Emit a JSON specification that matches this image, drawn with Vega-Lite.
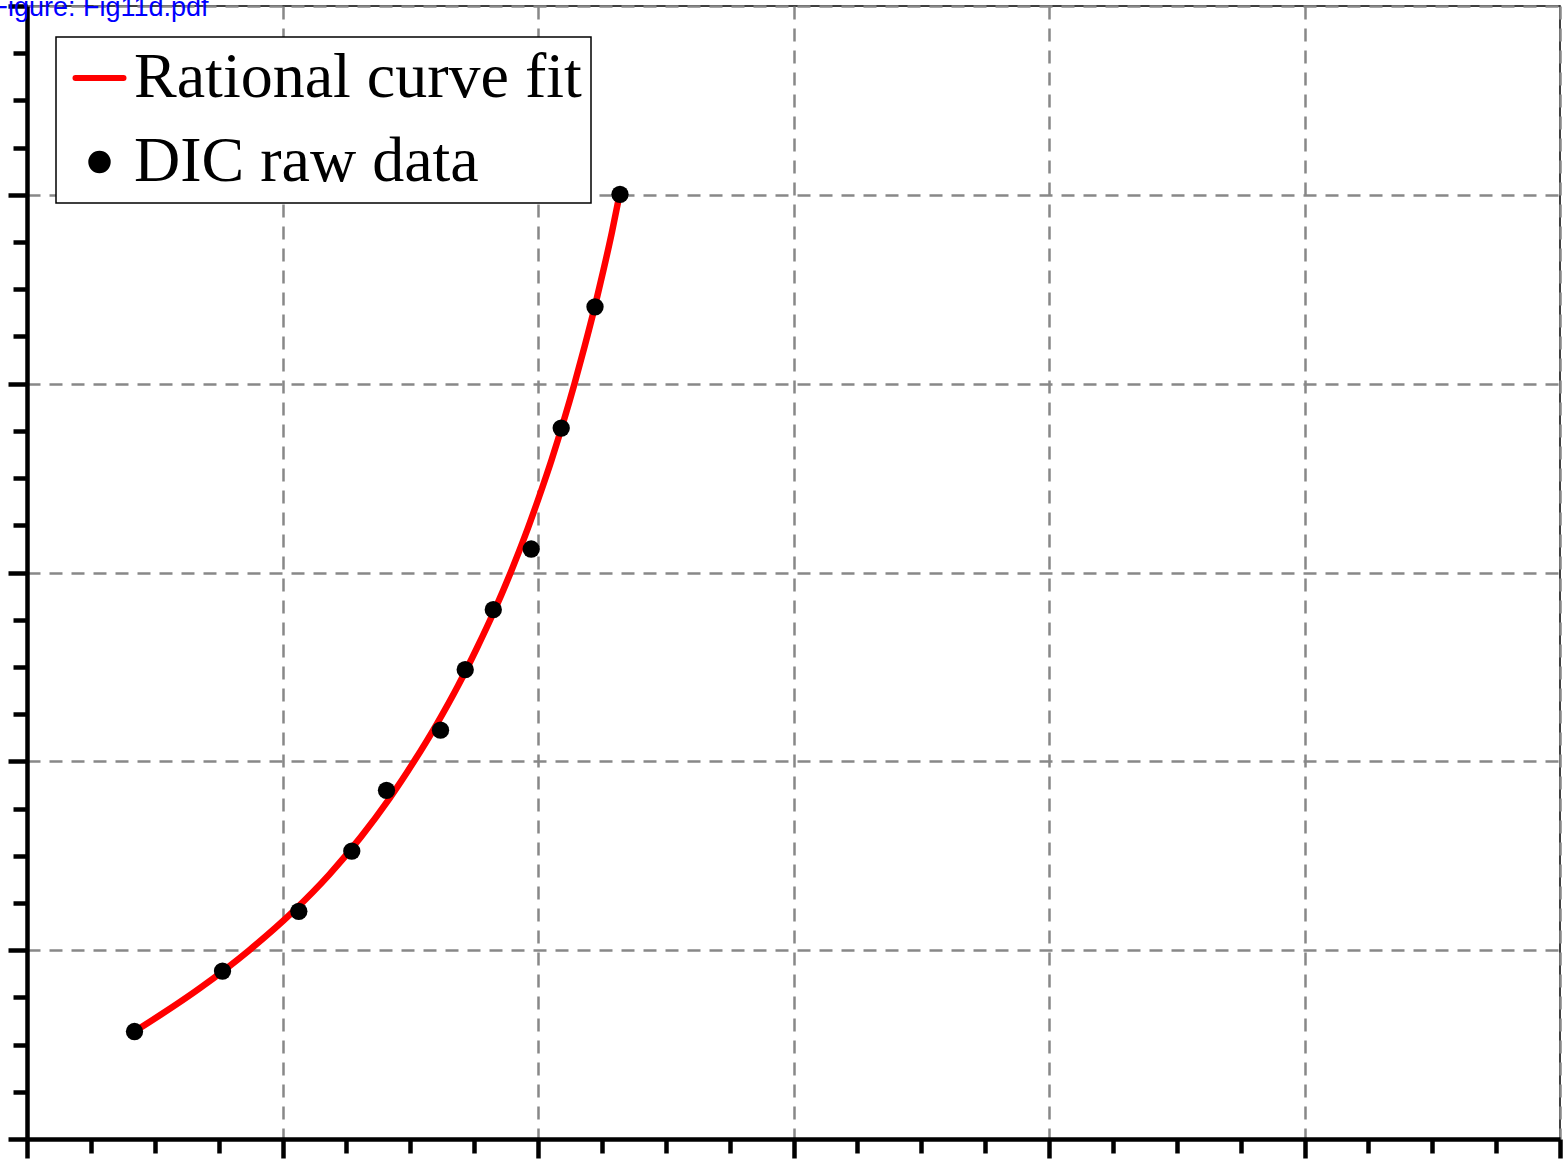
{
  "$schema": "https://vega.github.io/schema/vega-lite/v6.json",
  "width": 1533,
  "height": 1133,
  "autosize": {"type": "none"},
  "padding": {"left": 27, "top": 6, "right": 6, "bottom": 29},
  "background": "white",
  "config": {
    "view": {"stroke": "black", "strokeWidth": 1.5},
    "axis": {
      "labels": false,
      "title": null,
      "domainColor": "black",
      "domainWidth": 4.5,
      "tickColor": "black",
      "tickWidth": 4.5,
      "tickSize": {"condition": {"test": "datum.value % 1 === 0", "value": 19}, "value": 14},
      "grid": true,
      "gridColor": "#888888",
      "gridWidth": 2.5,
      "gridDash": [13, 9],
      "gridOpacity": {"condition": {"test": "datum.value % 1 === 0", "value": 1}, "value": 0}
    }
  },
  "data": {
    "values": [
      {"series": "Rational curve fit", "x": 0.4207, "y": 0.5691},
      {"series": "Rational curve fit", "x": 0.678, "y": 0.8},
      {"series": "Rational curve fit", "x": 0.870, "y": 1.0},
      {"series": "Rational curve fit", "x": 1.038, "y": 1.2},
      {"series": "Rational curve fit", "x": 1.183, "y": 1.4},
      {"series": "Rational curve fit", "x": 1.307, "y": 1.6},
      {"series": "Rational curve fit", "x": 1.417, "y": 1.8},
      {"series": "Rational curve fit", "x": 1.515, "y": 2.0},
      {"series": "Rational curve fit", "x": 1.605, "y": 2.2},
      {"series": "Rational curve fit", "x": 1.687, "y": 2.4},
      {"series": "Rational curve fit", "x": 1.761, "y": 2.6},
      {"series": "Rational curve fit", "x": 1.830, "y": 2.8},
      {"series": "Rational curve fit", "x": 1.893, "y": 3.0},
      {"series": "Rational curve fit", "x": 1.951, "y": 3.2},
      {"series": "Rational curve fit", "x": 2.004, "y": 3.4},
      {"series": "Rational curve fit", "x": 2.054, "y": 3.6},
      {"series": "Rational curve fit", "x": 2.100, "y": 3.8},
      {"series": "Rational curve fit", "x": 2.143, "y": 4.0},
      {"series": "Rational curve fit", "x": 2.183, "y": 4.2},
      {"series": "Rational curve fit", "x": 2.221, "y": 4.4},
      {"series": "Rational curve fit", "x": 2.256, "y": 4.6},
      {"series": "Rational curve fit", "x": 2.289, "y": 4.8},
      {"series": "Rational curve fit", "x": 2.319, "y": 5.0},
      {"series": "DIC raw data", "x": 0.4207, "y": 0.5691},
      {"series": "DIC raw data", "x": 0.7652, "y": 0.8894},
      {"series": "DIC raw data", "x": 1.0638, "y": 1.2059},
      {"series": "DIC raw data", "x": 1.2712, "y": 1.5246},
      {"series": "DIC raw data", "x": 1.4070, "y": 1.8465},
      {"series": "DIC raw data", "x": 1.6184, "y": 2.1652},
      {"series": "DIC raw data", "x": 1.7151, "y": 2.4854},
      {"series": "DIC raw data", "x": 1.8250, "y": 2.8031},
      {"series": "DIC raw data", "x": 1.9734, "y": 3.1244},
      {"series": "DIC raw data", "x": 2.0908, "y": 3.7650},
      {"series": "DIC raw data", "x": 2.2231, "y": 4.4071},
      {"series": "DIC raw data", "x": 2.3209, "y": 5.0026}
    ]
  },
  "layer": [
    {
      "transform": [{"filter": "datum.series === 'Rational curve fit'"}],
      "mark": {"type": "line", "strokeWidth": 6.5, "interpolate": "monotone", "strokeCap": "round"},
      "encoding": {
        "x": {
          "field": "x", "type": "quantitative",
          "scale": {"domain": [0, 6], "nice": false, "zero": false},
          "axis": {"values": [0,0.25,0.5,0.75,1,1.25,1.5,1.75,2,2.25,2.5,2.75,3,3.25,3.5,3.75,4,4.25,4.5,4.75,5,5.25,5.5,5.75,6]}
        },
        "y": {
          "field": "y", "type": "quantitative",
          "scale": {"domain": [0, 6], "nice": false, "zero": false},
          "axis": {
            "values": [0,0.25,0.5,0.75,1,1.25,1.5,1.75,2,2.25,2.5,2.75,3,3.25,3.5,3.75,4,4.25,4.5,4.75,5,5.25,5.5,5.75,6],
            "title": "Figure: Fig11d.pdf",
            "titleAngle": 0,
            "titleX": -36,
            "titleY": 9,
            "titleAlign": "left",
            "titleBaseline": "alphabetic",
            "titleFont": "Liberation Sans",
            "titleFontSize": 27,
            "titleFontWeight": "normal",
            "titleColor": "#0000ff"
          }
        },
        "color": {
          "field": "series", "type": "nominal",
          "scale": {"domain": ["Rational curve fit", "DIC raw data"], "range": ["#ff0000", "#000000"]},
          "legend": {
            "orient": "none",
            "legendX": 29,
            "legendY": 31,
            "title": null,
            "direction": "vertical",
            "strokeColor": "black",
            "fillColor": "white",
            "padding": 9,
            "symbolOffset": 2.5,
            "symbolSize": 2304,
            "symbolType": "stroke",
            "symbolStrokeWidth": 6,
            "labelFont": "Liberation Serif",
            "labelFontSize": 64,
            "labelColor": "black",
            "labelOffset": 2.5,
            "labelLimit": 0,
            "rowPadding": 20,
            "encode": {
              "legend": {"update": {"strokeWidth": {"value": 1.5}}},
              "symbols": {
                "update": {
                  "shape": {"signal": "datum.value === 'DIC raw data' ? 'circle' : 'stroke'"},
                  "size": {"signal": "datum.value === 'DIC raw data' ? 270 : 2304"},
                  "fill": {"signal": "datum.value === 'DIC raw data' ? '#000000' : 'transparent'"},
                  "stroke": {"signal": "datum.value === 'DIC raw data' ? 'transparent' : '#ff0000'"},
                  "strokeWidth": {"value": 6},
                  "strokeCap": {"value": "round"},
                  "opacity": {"value": 1}
                }
              }
            }
          }
        }
      }
    },
    {
      "transform": [{"filter": "datum.series === 'DIC raw data'"}],
      "mark": {"type": "point", "filled": true, "size": 300, "color": "#000000", "opacity": 1, "strokeWidth": 0},
      "encoding": {
        "x": {"field": "x", "type": "quantitative"},
        "y": {"field": "y", "type": "quantitative"}
      }
    }
  ]
}
